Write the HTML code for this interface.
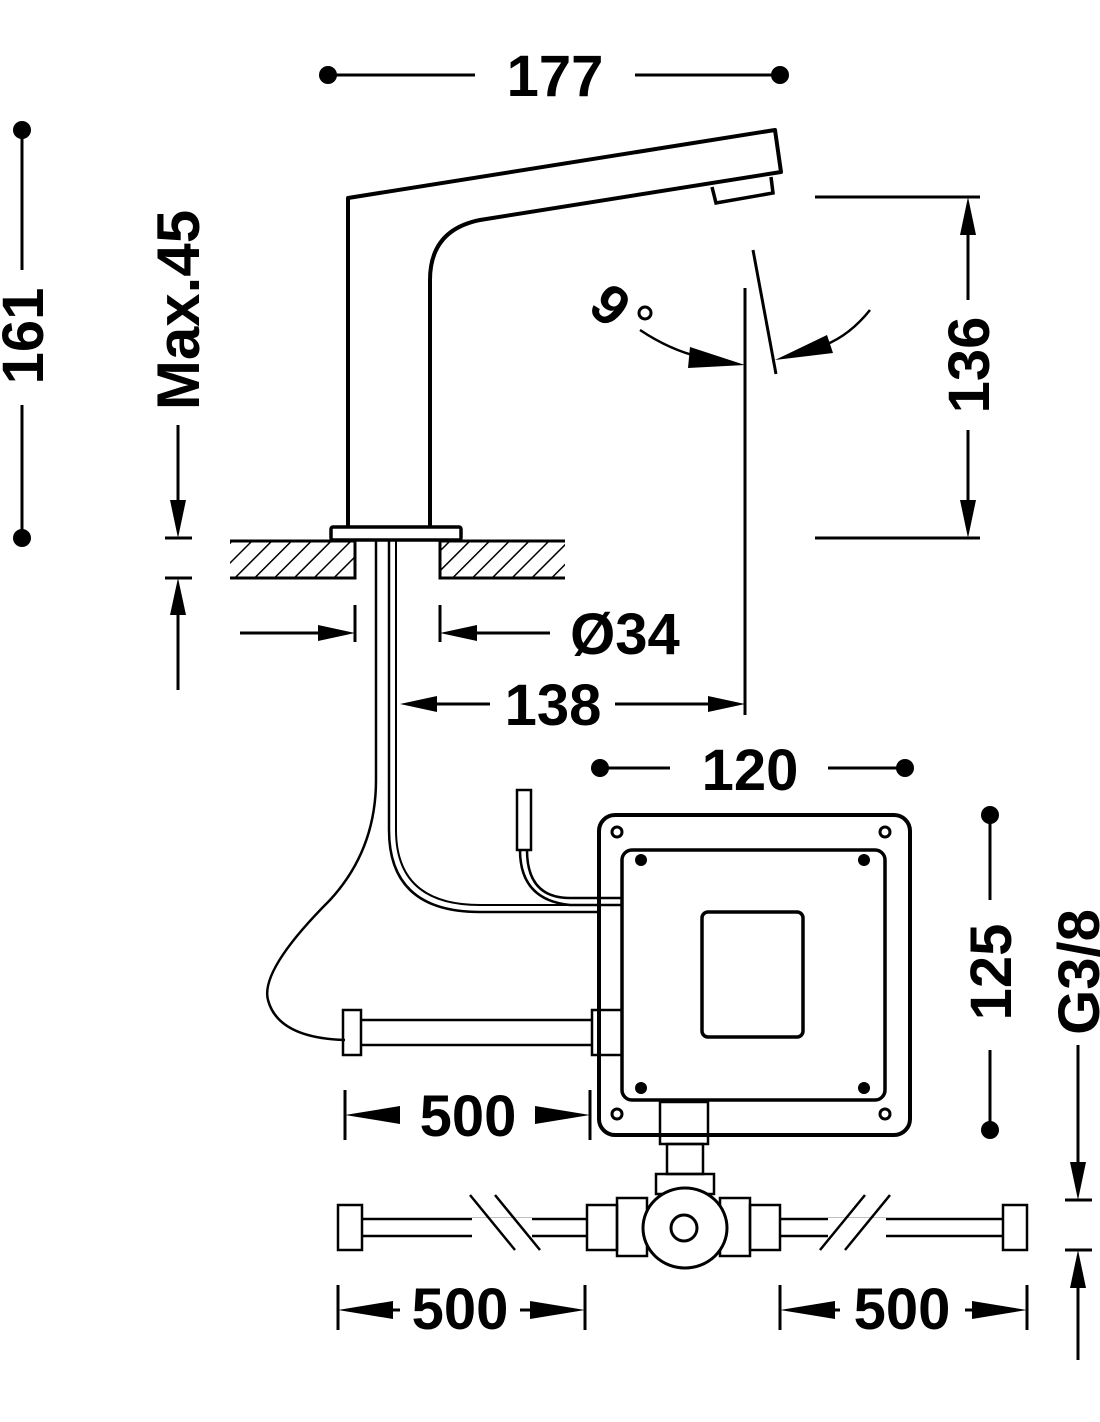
<!DOCTYPE html>
<html><head><meta charset="utf-8"><style>html,body{margin:0;padding:0;background:#fff}svg{display:block}text{font-family:"Liberation Sans",Arial,sans-serif;font-weight:bold;fill:#000}</style></head>
<body>
<svg width="1100" height="1422" viewBox="0 0 1100 1422" xmlns="http://www.w3.org/2000/svg">
<defs>
<pattern id="h" width="14" height="14" patternUnits="userSpaceOnUse" patternTransform="rotate(45)">
<line x1="0" y1="0" x2="0" y2="14" stroke="#000" stroke-width="3"/>
</pattern>
</defs>
<g stroke="#000" fill="none" stroke-width="3">
<line x1="330" y1="75" x2="475" y2="75"/><line x1="635" y1="75" x2="780" y2="75"/>
<line x1="22" y1="130" x2="22" y2="270"/><line x1="22" y1="405" x2="22" y2="538"/>
<line x1="178" y1="425" x2="178" y2="500"/><line x1="178" y1="615" x2="178" y2="690"/>
<line x1="165" y1="538" x2="192" y2="538"/><line x1="165" y1="578" x2="192" y2="578"/>
<path d="M348 528 V198 L775 130 L781 172 L480 220 Q430 230 430 280 V528" stroke-width="4" stroke-linejoin="round"/>
<path d="M712 187 L716 203 L773 193 L771 177" stroke-width="3.5"/>
<rect x="331" y="527" width="130" height="13" rx="2" stroke-width="3.5"/>
<rect x="230" y="541" width="125" height="37" fill="url(#h)" stroke="none"/>
<rect x="440" y="541" width="125" height="37" fill="url(#h)" stroke="none"/>
<path d="M230 541 H355 V578 H230"/><path d="M565 541 H440 V578 H565"/>
<path d="M376 540 V780 Q376 850 330 900 Q260 970 268 1000 Q278 1038 345 1040" stroke-width="2.5"/>
<path d="M389 540 V830 Q389 912 480 912 H600" stroke-width="2.5"/>
<path d="M396 540 V830 Q396 905 480 905 H600" stroke-width="2"/>
<path d="M520 850 Q520 900 570 905 H622 M527 850 Q527 898 570 898 H622" stroke-width="2.5"/>
<rect x="517" y="790" width="14" height="60" stroke-width="2.5"/>
<line x1="745" y1="288" x2="745" y2="715"/>
<line x1="753" y1="250" x2="776" y2="374"/>
<path d="M640 330 Q670 350 700 357" stroke-width="2.5"/>
<path d="M870 310 Q850 335 825 345" stroke-width="2.5"/>
<line x1="815" y1="197" x2="980" y2="197"/><line x1="815" y1="538" x2="980" y2="538"/>
<line x1="968" y1="230" x2="968" y2="300"/><line x1="968" y1="430" x2="968" y2="505"/>
<line x1="355" y1="605" x2="355" y2="642"/><line x1="440" y1="605" x2="440" y2="642"/>
<line x1="240" y1="633" x2="320" y2="633"/><line x1="475" y1="633" x2="550" y2="633"/>
<line x1="435" y1="704" x2="490" y2="704"/><line x1="615" y1="704" x2="710" y2="704"/>
<line x1="600" y1="768" x2="670" y2="768"/><line x1="828" y1="768" x2="905" y2="768"/>
<rect x="599" y="815" width="311" height="320" rx="16" stroke-width="4"/>
<rect x="622" y="850" width="263" height="250" rx="10" stroke-width="3.5"/>
<rect x="702" y="912" width="101" height="125" rx="6" stroke-width="3.5"/>
<circle cx="617" cy="832" r="5"/><circle cx="885" cy="832" r="5"/><circle cx="617" cy="1114" r="5"/><circle cx="885" cy="1114" r="5"/>
<rect x="592" y="1010" width="30" height="45" stroke-width="2.5"/>
<path d="M360 1020 H592 M360 1045 H592" stroke-width="2.5"/>
<rect x="343" y="1010" width="18" height="45" stroke-width="2.5"/>
<line x1="345" y1="1090" x2="345" y2="1140"/><line x1="590" y1="1090" x2="590" y2="1140"/>
<line x1="990" y1="815" x2="990" y2="900"/><line x1="990" y1="1050" x2="990" y2="1130"/>
<rect x="660" y="1102" width="48" height="42" stroke-width="2.5"/>
<rect x="667" y="1144" width="36" height="30" stroke-width="2.5"/>
<rect x="656" y="1174" width="58" height="20" stroke-width="2.5"/>
<rect x="587" y="1205" width="30" height="45" stroke-width="2.5"/>
<rect x="617" y="1198" width="30" height="58" stroke-width="2.5"/>
<rect x="720" y="1198" width="30" height="58" stroke-width="2.5"/>
<rect x="750" y="1205" width="30" height="45" stroke-width="2.5"/>
<ellipse cx="685" cy="1228" rx="42" ry="40" fill="#fff" stroke-width="3"/>
<ellipse cx="684" cy="1228" rx="13" ry="13" stroke-width="3"/>
<rect x="338" y="1205" width="24" height="45" stroke-width="2.5"/>
<rect x="1003" y="1205" width="24" height="45" stroke-width="2.5"/>
<path d="M362 1219 H587 M362 1236 H587 M780 1219 H1003 M780 1236 H1003" stroke-width="2.5"/>
<rect x="472" y="1218" width="60" height="20" fill="#fff" stroke="none"/>
<rect x="828" y="1218" width="58" height="20" fill="#fff" stroke="none"/>
<path d="M470 1195 L515 1250 M495 1195 L540 1250 M820 1250 L865 1195 M845 1250 L890 1195" stroke-width="2.5"/>
<line x1="1078" y1="1045" x2="1078" y2="1165"/><line x1="1078" y1="1285" x2="1078" y2="1360"/>
<line x1="1065" y1="1200" x2="1092" y2="1200"/><line x1="1065" y1="1250" x2="1092" y2="1250"/>
<line x1="338" y1="1285" x2="338" y2="1330"/><line x1="585" y1="1285" x2="585" y2="1330"/>
<line x1="780" y1="1285" x2="780" y2="1330"/><line x1="1027" y1="1285" x2="1027" y2="1330"/>
<line x1="375" y1="1310" x2="400" y2="1310"/><line x1="520" y1="1310" x2="550" y2="1310"/>
<line x1="815" y1="1310" x2="840" y2="1310"/><line x1="965" y1="1310" x2="990" y2="1310"/>
</g>
<g fill="#000">
<circle cx="328" cy="75" r="9"/><circle cx="780" cy="75" r="9"/>
<circle cx="22" cy="130" r="9"/><circle cx="22" cy="538" r="9"/>
<circle cx="600" cy="768" r="9"/><circle cx="905" cy="768" r="9"/>
<circle cx="990" cy="815" r="9"/><circle cx="990" cy="1130" r="9"/>
<circle cx="641" cy="860" r="6"/><circle cx="864" cy="860" r="6"/><circle cx="641" cy="1088" r="6"/><circle cx="864" cy="1088" r="6"/>
<polygon points="178,538 170,500 186,500"/><polygon points="178,578 170,615 186,615"/>
<polygon points="968,197 960,235 976,235"/><polygon points="968,538 960,500 976,500"/>
<polygon points="355,633 318,625 318,641"/><polygon points="440,633 477,625 477,641"/>
<polygon points="400,704 437,696 437,712"/><polygon points="745,704 708,696 708,712"/>
<polygon points="745,365 690,347 688,368"/><polygon points="775,360 827,335 833,353"/>
<polygon points="1078,1200 1070,1162 1086,1162"/><polygon points="1078,1250 1070,1288 1086,1288"/>
<polygon points="345,1115 400,1106 400,1124"/><polygon points="590,1115 535,1106 535,1124"/>
<polygon points="338,1310 393,1301 393,1319"/><polygon points="585,1310 530,1301 530,1319"/>
<polygon points="780,1310 835,1301 835,1319"/><polygon points="1027,1310 972,1301 972,1319"/>
</g>
<g font-size="58">
<text x="555" y="96" text-anchor="middle">177</text>
<text x="553" y="725" text-anchor="middle">138</text>
<text x="750" y="790" text-anchor="middle">120</text>
<text x="625" y="654" text-anchor="middle">Ø34</text>
<text x="468" y="1136" text-anchor="middle">500</text>
<text x="460" y="1329" text-anchor="middle">500</text>
<text x="902" y="1329" text-anchor="middle">500</text>
<text transform="translate(43,336) rotate(-90)" text-anchor="middle">161</text>
<text transform="translate(199,310) rotate(-90)" text-anchor="middle" font-size="60">Max.45</text>
<text transform="translate(989,365) rotate(-90)" text-anchor="middle">136</text>
<text transform="translate(1011,972) rotate(-90)" text-anchor="middle">125</text>
<text transform="translate(1099,972) rotate(-90)" text-anchor="middle">G3/8</text>
<text transform="translate(598,320) rotate(40)" text-anchor="middle" font-size="56">9</text>
</g>
<circle cx="645" cy="313" r="6" fill="none" stroke="#000" stroke-width="3"/>
</svg>
</body></html>
